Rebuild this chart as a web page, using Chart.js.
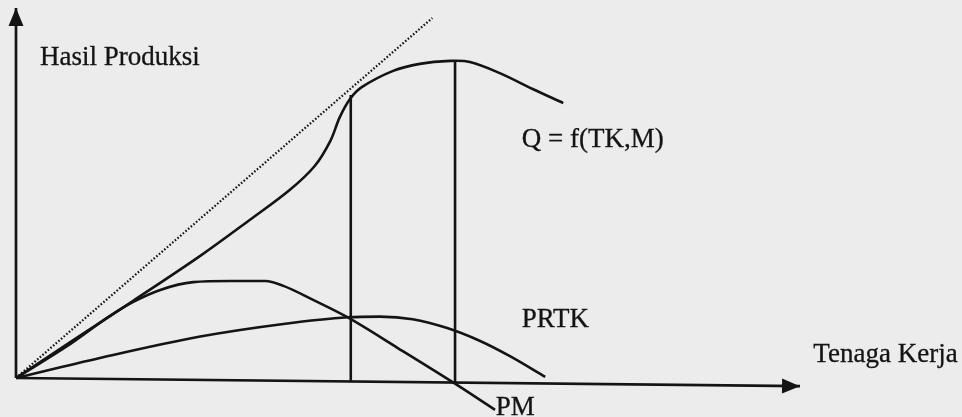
<!DOCTYPE html>
<html>
<head>
<meta charset="utf-8">
<script src="https://cdn.jsdelivr.net/npm/chart.js@4"></script>
<style>
  html, body { margin: 0; padding: 0; background: #ebeceb; }
  #wrap { width: 962px; height: 417px; }
</style>
</head>
<body>
<div id="wrap"><canvas id="prodChart"></canvas></div>
<script>
// Total product curve Q = f(TK,M)
var qX = [0, 7.5, 14.9, 23.5, 29.8, 34.9, 38.1, 40.1, 41.3, 42.6, 44.1, 48.1, 51.5, 55.4, 57.9, 61.7, 65.9, 69.8];
var qY = [0, 10.5, 20.8, 33.0, 42.7, 50.8, 57.3, 64.1, 70.5, 75.4, 78.6, 83.0, 84.9, 85.7, 85.4, 82.4, 78.1, 74.3];

// Marginal product (PM)
var pmX = [0, 6.5, 12.0, 14.9, 18.4, 22.6, 27.3, 31.8, 34.1, 37.9, 42.2, 48.7, 55.9, 61.1];
var pmY = [0, 8.6, 16.8, 20.5, 23.8, 25.9, 26.2, 26.2, 24.9, 21.1, 16.5, 8.1, -1.4, -8.6];

// Average product of labour (PRTK)
var prtkX = [0, 10.7, 23.5, 34.1, 42.3, 46.4, 50.6, 55.0, 59.2, 63.0, 67.5];
var prtkY = [0, 5.4, 11.2, 14.6, 16.4, 16.6, 15.9, 13.5, 10.0, 5.9, 0.3];

// Ray from the origin touching Q
var rayX = [0, 53.1];
var rayY = [0, 97.3];

// Stage boundaries: AP max (PM = PRTK) and Q max (PM = 0)
var stage1X = [42.7, 42.7];
var stage1Y = [-1.1, 76.5];
var stage2X = [56.0, 56.0];
var stage2Y = [-1.5, 85.7];

// Axes
var axisYX = [0, 0];
var axisYY = [0, 100];
var axisXX = [0, 100];
var axisXY = [0, -2.2];

function pts(xs, ys) {
    return xs.map(function(x, i) { return { x: x, y: ys[i] }; });
}

var ink = '#141414';

// fill the canvas with the paper colour
const paperBg = {
    id: 'paperBg',
    beforeDraw(chart) {
        const ctx = chart.ctx;
        ctx.save();
        ctx.fillStyle = '#ebeceb';
        ctx.fillRect(0, 0, chart.width, chart.height);
        ctx.restore();
    }
};

// arrow heads at the end of the axis lines
const arrowHeads = {
    id: 'arrowHeads',
    afterDatasetsDraw(chart) {
        const ctx = chart.ctx;
        chart.data.datasets.forEach(function(ds, i) {
            if (!ds.arrow) return;
            const pts = chart.getDatasetMeta(i).data;
            const tip = pts[pts.length - 1];
            const prev = pts[pts.length - 2];
            const ang = Math.atan2(tip.y - prev.y, tip.x - prev.x);
            const len = 18, half = 7.5;
            ctx.save();
            ctx.translate(tip.x, tip.y);
            ctx.rotate(ang);
            ctx.beginPath();
            ctx.moveTo(0, 0);
            ctx.lineTo(-len, -half);
            ctx.lineTo(-len, half);
            ctx.closePath();
            ctx.fillStyle = ink;
            ctx.fill();
            ctx.restore();
        });
    }
};

// text labels placed in data units
const textLabels = {
    id: 'textLabels',
    afterDraw(chart, args, opts) {
        const ctx = chart.ctx;
        const xs = chart.scales.x, ys = chart.scales.y;
        ctx.save();
        ctx.fillStyle = ink;
        ctx.strokeStyle = ink;
        ctx.lineWidth = 0.3;
        ctx.font = '27px "Liberation Serif", "DejaVu Serif", serif';
        ctx.textAlign = 'left';
        ctx.textBaseline = 'alphabetic';
        opts.items.forEach(function(it) {
            const px = xs.getPixelForValue(it.x), py = ys.getPixelForValue(it.y);
            ctx.fillText(it.text, px, py);
            ctx.strokeText(it.text, px, py);
        });
        ctx.restore();
    }
};

function lineSet(label, data, extra) {
    return Object.assign({
        label: label,
        data: data,
        borderColor: ink,
        borderWidth: 2.6,
        pointRadius: 0,
        fill: false,
        tension: 0
    }, extra || {});
}

const config = {
    type: 'line',
    data: {
        datasets: [
            lineSet('axisY', pts(axisYX, axisYY), { arrow: true, borderWidth: 2.7 }),
            lineSet('axisX', pts(axisXX, axisXY), { arrow: true, borderWidth: 2.7 }),
            lineSet('ray', pts(rayX, rayY), { borderWidth: 2.2, borderDash: [1.6, 1.9] }),
            lineSet('stage1', pts(stage1X, stage1Y)),
            lineSet('stage2', pts(stage2X, stage2Y)),
            lineSet('Q', pts(qX, qY), { tension: 0.35 }),
            lineSet('PM', pts(pmX, pmY), { cubicInterpolationMode: 'monotone' }),
            lineSet('PRTK', pts(prtkX, prtkY), { cubicInterpolationMode: 'monotone' })
        ]
    },
    options: {
        responsive: true,
        maintainAspectRatio: false,
        animation: false,
        layout: { padding: 0 },
        scales: {
            x: { type: 'linear', display: false, min: -2.04, max: 120.66 },
            y: { type: 'linear', display: false, min: -10.54, max: 102.16 }
        },
        plugins: {
            legend: { display: false },
            tooltip: { enabled: false },
            textLabels: {
                items: [
                    { text: 'Hasil Produksi', x: 3.06, y: 84.6 },
                    { text: 'Q = f(TK,M)', x: 64.5, y: 62.4 },
                    { text: 'PRTK', x: 64.5, y: 13.8 },
                    { text: 'Tenaga Kerja', x: 101.7, y: 4.3 },
                    { text: 'PM', x: 61.2, y: -10.0 }
                ]
            }
        }
    },
    plugins: [paperBg, arrowHeads, textLabels]
};

new Chart(document.getElementById('prodChart'), config);
</script>
</body>
</html>
